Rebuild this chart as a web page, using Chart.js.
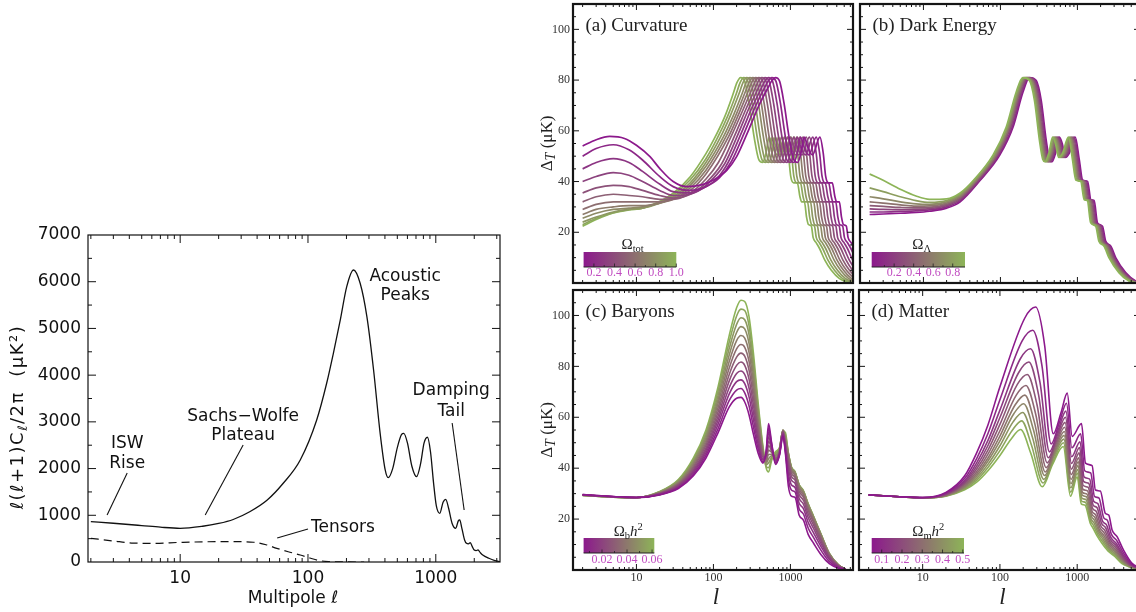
<!DOCTYPE html>
<html><head><meta charset="utf-8">
<script src="https://cdn.jsdelivr.net/npm/chart.js@4.4.0/dist/chart.umd.min.js"></script>
<style>
html,body{margin:0;padding:0;background:#fff;overflow:hidden;width:1136px;height:612px;position:relative;}
canvas{position:absolute;}
</style></head><body>
<canvas id="cl" width="540" height="392" style="left:0;top:220px"></canvas>
<canvas id="ca" width="316" height="287" style="left:540px;top:0"></canvas>
<canvas id="cb" width="290" height="287" style="left:856px;top:0"></canvas>
<canvas id="cc" width="316" height="325" style="left:540px;top:287px"></canvas>
<canvas id="cd" width="290" height="325" style="left:856px;top:287px"></canvas>
<script>
// ---------- Left chart: power spectrum ----------
const ellFull=[2,3,5,7,10,15,20,26,35,48,64,87,117,140,158,179,201,227,256,289,326,367,402,424,460,500,540,562,600,650,707,760,810,861,910,960,1010,1075,1140,1197,1260,1340,1432,1500,1540,1600,1680,1738,1800,1862,1930,2000,2070,2140,2230,2330,2600,2900,3180];
const powerTotal=[863,830,780,745,721,765,825,910,1075,1327,1685,2184,3040,3826,4468,5181,5894,6251,5966,5252,4110,2755,1970,1805,2000,2450,2730,2755,2550,2050,1827,2100,2550,2670,2350,1700,1200,1043,1280,1342,1150,830,721,880,900,720,470,400,390,413,330,257,245,257,200,150,80,30,5];
const ellTensor=[2,3,4.3,6,10,15,26,37.5,47,57,70,87,105,124,145,170,275];
const powerTensor=[507,450,405,400,420,432,435,423,370,293,220,150,80,28,8,2,0];
const leftYTicks=[0,1000,2000,3000,4000,5000,6000,7000];
const leftXTicks=[10,100,1000];
const noteText=['ISW','Rise','Sachs\u2212Wolfe','Plateau','Acoustic','Peaks','Damping','Tail','Tensors'];
const noteEll=[3.85,3.85,31.1,31.1,576,576,1320,1320,188];
const notePower=[2526,2098,3104,2697,6101,5694,3661,3211,728];
const pointerEll=[[3.85,2.68],[31.1,15.7],[1343,1667],[57.4,100]];
const pointerPower=[[1905,1006],[2505,1006],[2976,1113],[514,706]];

// ---------- (a) Curvature ----------
const curvHeadL=[
[2,3,4.5,7,10,15,20,30,45,70,100,150,200,288,397,512,576,640],
[2,3,5,8,12,20,30,50,80,120,172,258,356,459,517,574],
[2,3,5,8,12,20,30,50,80,110,155,233,321,414,466,518],
[2,3,5,8,12,20,30,50,80,140,211,290,374,421,468],
[2,3,5,8,12,20,30,50,80,128,191,264,340,383,425],
[2,3,5,8,12,20,30,50,80,116,174,240,310,348,387],
[2,3,5,8,12,20,30,50,80,159,219,282,318,353],
[2,3,5,8,12,20,30,50,80,146,201,259,292,324],
[2,3,5,8,12,20,30,50,80,134,184,238,267,297],
[2,3,5,8,12,20,30,50,80,122,167,216,243,270],
[2,3,5,8,12,20,30,50,80,111,153,198,222,247],
[2,3,5,8,12,20,30,50,80,101,140,180,202,225]];
const curvHeadT=[
[54,56.5,57.8,57,54.3,49.8,45.2,40,38,38.7,40.6,44.5,49.8,60.5,70.5,77,79.8,81],
[50,53,54.5,52.5,48.5,42,38,36.5,38,41.5,48,60,70,76.8,79.7,81],
[45,47.5,49,47.5,44,39,36,35.5,38,41,47.5,59.5,69.5,76.5,79.6,81],
[40,42,43.5,42.5,40,36.5,34.5,35,38.5,47,59,69,76.2,79.5,81],
[35.5,37.5,38.5,38,36.5,34.5,33.5,35,39.5,47,58.5,68.5,76,79.5,81],
[32,34,35,34.5,34,33,33,35.5,41,47.5,58.5,68,75.8,79.4,81],
[29,31,32,32,32,32,33,36.5,43,58,67.5,75.5,79.3,81],
[27,29,30,30.5,30.5,31.5,33,37.5,44.5,57.8,67,75.3,79.2,81],
[25.5,27.5,29,29.5,30,31.5,33.5,38.5,46,57.5,66.5,75,79.2,81],
[24,26,28,29,29.5,31.5,34,39.5,47.5,57.2,66.2,74.8,79.1,81],
[23,25.5,27.7,29,29.5,31.8,34.7,40.7,49,56.8,65.8,74.6,79,81],
[22.4,25,27.6,28.8,29.5,32.1,35.4,41.9,51,56.5,65.5,74.5,79,81]];
const curvTailL=[
[725,825,967,1109,1237,1365,1507,1706,1934,2417,2673,2872,3128,3498,3783,3982,4323,4607,4892,5318,5603,6115,6826],
[650,740,867,995,1110,1224,1352,1531,1735,2168,2398,2577,2806,3138,3393,3571,3878,4133,4388,4770,5025,5485,6122,7143],
[587,668,783,898,1001,1105,1220,1381,1565,1957,2164,2325,2532,2831,3062,3223,3499,3729,3959,4305,4535,4949,5525,6446,7827],
[530,603,707,811,905,998,1102,1248,1414,1768,1955,2101,2288,2558,2766,2912,3162,3370,3578,3890,4098,4472,4992,5824,7072],
[482,548,642,737,822,907,1001,1133,1285,1606,1776,1908,2078,2323,2512,2645,2871,3060,3249,3532,3721,4061,4534,5289,6423,8123],
[439,499,585,671,748,826,912,1032,1170,1462,1617,1737,1892,2116,2288,2408,2614,2786,2958,3216,3388,3698,4128,4816,5848,7396],
[400,455,533,612,683,753,832,941,1067,1334,1475,1585,1726,1930,2087,2197,2385,2542,2699,2934,3091,3373,3766,4393,5335,6747],
[367,418,490,562,626,691,763,864,979,1224,1354,1454,1584,1771,1915,2016,2189,2333,2477,2693,2837,3096,3456,4032,4896,6192,7920],
[337,383,449,515,574,634,700,792,898,1122,1241,1333,1452,1624,1756,1848,2006,2138,2270,2468,2600,2838,3168,3696,4488,5676,7260],
[306,348,408,468,522,576,636,720,816,1020,1128,1212,1320,1476,1596,1680,1824,1944,2064,2244,2364,2580,2880,3360,4080,5160,6600],
[280,318,373,428,478,527,582,659,747,933,1032,1109,1208,1351,1460,1537,1669,1779,1889,2053,2163,2361,2635,3074,3733,4721,6039],
[255,290,340,390,435,480,530,600,680,850,940,1010,1100,1230,1330,1400,1520,1620,1720,1870,1970,2150,2400,2800,3400,4300,5500]];
const curvTailT=[79.5,71,57,48.5,47.5,51,57.5,53,50.5,57.5,51,42,39.5,39.5,34,32,32,26,23,22.5,18,16,13.5,9,5,1.8,0.3];

// ---------- (b) Dark energy ----------
const darkLowL=[2,3,5,8,12,20,30];
const darkLowT=[
[27,27.2,27.5,27.8,28.3,29.5,32],
[28,28,28.2,28.4,28.8,30,32.5],
[29.2,29,28.9,29,29.3,30.5,33],
[30.5,30.2,29.8,29.6,29.8,31,33.5],
[32,31.5,30.8,30.3,30.4,31.5,34],
[34,33.2,32,31.2,31,32,34.5],
[37.5,36,34,32.5,31.8,32.5,35],
[43,40.5,37,34.3,33,33.2,35.5]];
const darkTailL=[
[55,98,146,196,239,292,339,393,434,466,523,584,635,698,779,938,1058,1167,1355,1499,1648,1823,2116,2328,2717,3141,4232,5713,7350,9800],
[54,95,142,190,232,283,330,382,421,452,508,568,616,678,757,912,1028,1134,1316,1457,1601,1771,2055,2261,2639,3051,4111,5550,7140,9520],
[52,92,137,185,225,275,320,371,409,439,493,551,598,658,735,885,998,1101,1277,1414,1553,1719,1995,2195,2562,2961,3991,5387,6930,9240],
[50,90,133,179,218,267,310,360,396,426,478,534,580,638,712,858,968,1067,1239,1371,1506,1667,1934,2128,2484,2872,3870,5224,6720,8960],
[49,87,130,174,213,259,302,350,386,414,465,520,565,621,693,835,942,1039,1206,1334,1466,1622,1882,2071,2418,2795,3766,5084,6540,8720],
[48,85,126,170,207,252,294,340,375,403,453,506,549,604,674,812,916,1010,1172,1297,1426,1577,1831,2014,2351,2718,3662,4944,6360,8480],
[46,82,123,165,201,245,285,331,365,391,440,491,534,587,655,789,890,982,1139,1261,1385,1533,1779,1957,2285,2641,3559,4804,6180,8240],
[45,80,119,160,195,238,277,321,354,380,427,477,518,570,636,766,864,953,1106,1224,1345,1488,1727,1900,2218,2564,3455,4664,6000,8000]];
const darkTailT=[40.6,50.4,61.5,75.2,81,79.8,71.9,56.3,48.8,47.8,51.5,57.5,55,49.5,51,57.5,48.5,40.6,40,32.8,32.5,23.7,22.4,16.5,14.5,10,4.1,0.8,0,0];

// ---------- (c) Baryons ----------
const baryonL=[2,5,10,20,35,55,80,115,160,200,228,255,290,330,380,440,485,520,570,640,720,800,860,940,1030,1150,1300,1480,1700,2000,2500,3200,4200,5200];
const baryonT=[
[29.6,28.9,28.5,29.5,32,37,44,54,64,67.5,67.8,66,61,53.5,46,42,47,57.5,50,41.5,45,52.5,46,33,29,28.5,21.5,19.5,14,10.5,6,2.5,0.7,0.1],
[29.6,28.9,28.5,29.6,32.3,37.6,45,55.6,66.5,70.7,71.3,69.6,64.5,56.4,47.8,42.6,46.4,55.8,49.4,42,45.3,53,46.7,35.8,31.4,30.6,24,21.9,16.5,12.7,7.7,3.3,1,0.15],
[29.5,28.8,28.5,29.7,32.6,38.3,46,57.3,69.1,74,74.7,73.2,68,59.3,49.6,43.2,45.7,54.1,48.7,42.4,45.5,53.5,47.5,38.1,33.5,32.4,26.2,24,18.7,14.6,9.2,4.1,1.2,0.2],
[29.5,28.8,28.5,29.9,33,38.9,47,58.9,71.6,77.2,78.2,76.8,71.5,62.2,51.5,43.8,45.1,52.3,48.1,42.9,45.8,54,48.2,40.1,35.3,34,28.1,25.8,20.6,16.3,10.4,4.7,1.4,0.2],
[29.5,28.8,28.5,30,33.3,39.5,48,60.5,74.2,80.4,81.7,80.4,75,65.1,53.3,44.4,44.5,50.6,47.5,43.3,46.1,54.3,48.9,41.8,36.8,35.3,29.6,27.3,22.1,17.6,11.4,5.2,1.6,0.25],
[29.5,28.7,28.5,30.1,33.6,40.2,49,62.2,76.7,83.6,85.2,84,78.5,68,55.1,45,43.8,48.9,46.8,43.8,46.4,54.6,49.6,43.1,38,36.3,30.9,28.5,23.4,18.7,12.2,5.6,1.7,0.25],
[29.4,28.7,28.5,30.2,33.9,40.8,50,63.8,79.3,86.9,88.6,87.5,82,71,56.9,45.5,43.2,47.1,46.2,44.2,46.6,54.8,50.4,44.2,38.9,37.1,31.8,29.4,24.3,19.5,12.9,5.9,1.8,0.3],
[29.4,28.7,28.4,30.3,34.2,41.5,51,65.5,81.8,90.1,92.1,91.1,85.5,73.9,58.7,46.1,42.5,45.4,45.5,44.7,46.9,55,51.1,45,39.6,37.7,32.5,30.1,25,20.2,13.4,6.2,1.9,0.3],
[29.4,28.7,28.4,30.4,34.5,42.1,52,67.1,84.4,93.3,95.6,94.7,89,76.8,60.5,46.7,41.9,43.7,44.9,45.1,47.2,55,51.8,45.5,40.1,38.1,33,30.6,25.5,20.6,13.7,6.3,1.95,0.3],
[29.4,28.6,28.4,30.6,34.9,42.7,53,68.7,86.9,96.5,99.1,98.3,92.5,79.7,62.4,47.3,41.3,42,44.3,45.6,47.5,55,52.5,45.8,40.3,38.4,33.3,30.8,25.8,20.9,13.9,6.4,2,0.3],
[29.3,28.6,28.4,30.7,35.2,43.4,54,70.4,89.5,99.8,102.5,101.9,96,82.6,64.2,47.9,40.6,40.2,43.6,46,47.7,54.8,53.3,46,40.5,38.5,33.5,31,26,21,14,6.5,2,0.3],
[29.3,28.6,28.4,30.8,35.5,44,55,72,92,103,106,105.5,99.5,85.5,66,48.5,40,38.5,43,46.5,48,54.5,54,46,40.5,38.5,33.5,31,26,21,14,6.5,2,0.3]];

// ---------- (d) Matter ----------
const matterL=[
[2,5,10,20,35,50,70,100,210,290,380,490,620,743,861,1137,1280,1560,1722,1995,2317,2560,2830,3300,3980,5130,6600],
[2,5,10,20,35,50,70,100,194,266,351,460,590,727,853,1110,1250,1497,1673,1913,2209,2462,2765,3262,3945,5030,6600],
[2,5,10,20,35,50,70,100,183,249,330,438,568,714,847,1089,1226,1450,1635,1851,2126,2388,2714,3229,3920,4955,6600],
[2,5,10,20,35,50,70,100,175,237,315,423,552,705,842,1074,1210,1416,1608,1806,2068,2336,2677,3206,3899,4900,6600],
[2,5,10,20,35,50,70,100,168,226,302,409,538,697,838,1060,1195,1386,1584,1767,2016,2288,2645,3184,3882,4851,6600],
[2,5,10,20,35,50,70,100,162,217,291,397,526,689,835,1047,1181,1360,1562,1732,1970,2247,2615,3165,3866,4806,6600],
[2,5,10,20,35,50,70,100,157,210,281,387,515,683,832,1037,1170,1337,1543,1702,1931,2211,2589,3148,3852,4768,6600],
[2,5,10,20,35,50,70,100,152,203,273,378,506,677,829,1027,1160,1317,1527,1676,1897,2180,2567,3134,3840,4734,6600],
[2,5,10,20,35,50,70,100,148,197,265,370,497,672,826,1018,1150,1297,1511,1650,1864,2149,2545,3120,3827,4701,6600],
[2,5,10,20,35,50,70,100,144,191,257,361,489,666,823,1009,1140,1278,1495,1624,1831,2120,2523,3105,3815,4668,6600],
[2,5,10,20,35,50,70,100,140,185,250,353,480,660,820,1000,1130,1260,1480,1600,1800,2090,2500,3090,3800,4630,6600]];
const matterT=[
[29.5,28.8,28.5,30.5,37,46,57,72,99,103.3,88,53.5,62,69.5,52.5,57.5,42,41,31.4,31,22.2,21.6,15.7,13,7.8,2.6,0.8],
[29.5,28.8,28.46,30.2,36,43.8,53.6,66.9,90,94.2,80,49.5,58.1,65.5,48,53.5,39,38.1,28.9,28.3,20.5,19.5,14.1,11.5,6.8,2.35,0.7],
[29.5,28.8,28.43,30,35.1,42.1,50.9,62.8,82.9,86.9,73.7,46.4,55,62.4,44.5,50.4,36.6,35.7,27,26.1,19.2,17.8,12.9,10.3,6,2.2,0.63],
[29.5,28.8,28.41,29.8,34.5,40.8,48.9,59.9,77.6,81.7,69.1,44.1,52.8,60,41.9,48.1,34.8,34,25.5,24.5,18.3,16.6,12,9.5,5.4,2,0.58],
[29.5,28.8,28.39,29.7,34,39.7,47.1,57.2,72.9,76.8,64.9,42.1,50.7,58,39.6,46,33.2,32.5,24.2,23,17.4,15.5,11.2,8.7,4.9,1.9,0.53],
[29.5,28.8,28.37,29.5,33.5,38.6,45.5,54.7,68.6,72.5,61.1,40.2,48.9,56.1,37.5,44.1,31.8,31.1,23,21.7,16.6,14.5,10.5,8,4.4,1.8,0.48],
[29.5,28.8,28.36,29.4,33,37.7,44,52.6,64.8,68.7,57.8,38.5,47.2,54.4,35.6,42.5,30.5,29.8,22,20.6,15.9,13.6,9.8,7.4,4,1.7,0.44],
[29.5,28.8,28.34,29.3,32.7,36.9,42.8,50.7,61.5,65.3,54.8,37.1,45.8,52.9,33.9,41,29.4,28.8,21.1,19.5,15.3,12.8,9.2,6.8,3.6,1.6,0.4],
[29.5,28.8,28.33,29.2,32.3,36.1,41.5,48.8,58.2,61.9,51.9,35.6,44.4,51.4,32.3,39.5,28.2,27.7,20.1,18.5,14.7,12.1,8.6,6.3,3.2,1.5,0.37],
[29.5,28.8,28.31,29.1,31.9,35.3,40.3,46.9,54.8,58.6,48.9,34.2,42.9,50,30.6,38.1,27.1,26.6,19.2,17.5,14.1,11.3,8.1,5.7,2.9,1.4,0.33],
[29.5,28.8,28.3,29,31.5,34.5,39,45,51.5,55.2,46,32.7,41.5,48.5,29,36.6,26,25.5,18.3,16.5,13.5,10.5,7.5,5.2,2.5,1.3,0.3]];

// ---------- shared tick / colour-bar labels ----------
const rightXTicks=[10,100,1000];
const rightYTicks=[20,40,60,80,100];
const curvBarTicks=[0.2,0.4,0.6,0.8,1.0], curvBarLabels=['0.2','0.4','0.6','0.8','1.0'];
const darkBarTicks=[0.2,0.4,0.6,0.8], darkBarLabels=['0.2','0.4','0.6','0.8'];
const baryonBarTicks=[0.02,0.04,0.06], baryonBarLabels=['0.02','0.04','0.06'];
const matterBarTicks=[0.1,0.2,0.3,0.4,0.5], matterBarLabels=['0.1','0.2','0.3','0.4','0.5'];

// ================= drawing code =================
const SANS='"DejaVu Sans", sans-serif';
const SERIF='"Liberation Serif", "DejaVu Serif", serif';
const PURPLE=[140,25,140], GREEN=[141,180,88];
function mix(t){return 'rgb('+PURPLE.map((v,i)=>Math.round(v+(GREEN[i]-v)*t)).join(',')+')';}
function pts(L,T){return L.map((l,i)=>({x:l,y:T[i]}));}
function seg(ctx,x1,y1,x2,y2){ctx.beginPath();ctx.moveTo(x1,y1);ctx.lineTo(x2,y2);ctx.stroke();}
function logTicks(min,max){const o=[];for(let e=-1;e<=4;e++)for(let m=1;m<=9;m++){const v=m*Math.pow(10,e);if(v>min*1.001&&v<max*0.999)o.push({v,major:m===1});}return o;}
function runs(ctx,parts,x,y,align){
  let w=0;parts.forEach(p=>{ctx.font=p.f;p.w=ctx.measureText(p.t).width;w+=p.w;});
  let cx=align==='center'?x-w/2:x;
  ctx.textAlign='left';ctx.textBaseline='alphabetic';
  parts.forEach(p=>{ctx.font=p.f;ctx.fillText(p.t,cx,y+(p.dy||0));cx+=p.w;});
}
function frameTicks(chart,st){
  const {ctx,chartArea:a,scales:{x,y}}=chart;
  ctx.save();ctx.strokeStyle=st.color;ctx.lineWidth=st.tickW;
  logTicks(x.min,x.max).forEach(t=>{const p=x.getPixelForValue(t.v);const L=t.major?st.maj:st.min;seg(ctx,p,a.bottom,p,a.bottom-L);seg(ctx,p,a.top,p,a.top+L);});
  const n=Math.round((y.max-y.min)/st.yMinor);
  for(let i=1;i<n;i++){const v=y.min+i*st.yMinor;const p=y.getPixelForValue(v);const L=(i%st.perMajor===0)?st.maj:st.min;seg(ctx,a.left,p,a.left+L,p);seg(ctx,a.right,p,a.right-L,p);}
  ctx.lineWidth=st.frameW;ctx.strokeRect(a.left,a.top,a.right-a.left,a.bottom-a.top);
  ctx.restore();
}
function colorbar(ctx,a,cb){
  const x0=a.left+cb.dx0,x1=a.left+cb.dx1,y0=a.bottom-cb.dy0,y1=a.bottom-cb.dy1;
  const g=ctx.createLinearGradient(x0,0,x1,0);g.addColorStop(0,mix(0));g.addColorStop(0.5,mix(0.5));g.addColorStop(1,mix(1));
  ctx.fillStyle=g;ctx.fillRect(x0,y0,x1-x0,y1-y0);
  ctx.strokeStyle='#222';ctx.lineWidth=1.2;seg(ctx,x0,y1,x1,y1);
  const px=v=>x0+(v-cb.vmin)/(cb.vmax-cb.vmin)*(x1-x0);
  ctx.lineWidth=0.8;
  cb.ticks.forEach(v=>seg(ctx,px(v),y1,px(v),y1-3.5));
  cb.minor.forEach(v=>seg(ctx,px(v),y1,px(v),y1-2));
  ctx.fillStyle='#c04cc0';ctx.font='12px '+SERIF;ctx.textAlign='center';ctx.textBaseline='alphabetic';
  cb.ticks.forEach((v,i)=>ctx.fillText(cb.labels[i],px(v),a.bottom-7.5));
  ctx.fillStyle='#222';runs(ctx,cb.title,a.left+cb.tx,a.bottom-34.5,'center');
}
function rightDeco(cfg){
  return {id:'deco',afterDraw(chart){
    const {ctx,chartArea:a}=chart;
    frameTicks(chart,{color:'#151515',tickW:1,maj:6,min:3,yMinor:5,perMajor:4,frameW:2.2});
    ctx.save();
    ctx.fillStyle='#222';ctx.font='19px '+SERIF;ctx.textAlign='left';ctx.textBaseline='alphabetic';
    ctx.fillText(cfg.label,a.left+12.5,a.top+26.5);
    colorbar(ctx,a,cfg.bar);
    if(cfg.yTitle){
      ctx.save();ctx.translate(a.left-27,(a.top+a.bottom)/2);ctx.rotate(-Math.PI/2);ctx.fillStyle='#222';
      runs(ctx,[{t:'\u0394',f:'17px '+SERIF},{t:'T',f:'italic 14px '+SERIF,dy:3},{t:' (\u03BCK)',f:'17px '+SERIF}],0,6,'center');
      ctx.restore();
    }
    if(cfg.xTitle){
      ctx.fillStyle='#222';ctx.font='italic 23px '+SERIF;ctx.textAlign='center';ctx.textBaseline='middle';
      ctx.fillText('l',(a.left+a.right)/2+3,a.bottom+28);
    }
    ctx.restore();
  }};
}
function rightChart(id,datasets,o){
  return new Chart(document.getElementById(id),{
    type:'line',data:{datasets},
    options:{responsive:false,animation:false,devicePixelRatio:1,
      layout:{padding:o.pad},
      plugins:{legend:{display:false},tooltip:{enabled:false}},
      elements:{point:{radius:0}},
      scales:{
        x:{type:'logarithmic',min:1.5,max:6500,bounds:'data',display:o.showX,
           grid:{display:false,drawTicks:false},border:{display:false},
           afterBuildTicks:s=>{s.ticks=rightXTicks.map(v=>({value:v}));},
           afterFit:s=>{s.paddingLeft=0;s.paddingRight=0;s.height=o.showX?42:0;},
           ticks:{font:{family:SERIF,size:12},color:'#333',padding:1,maxRotation:0,autoSkip:false,callback:v=>String(v)}},
        y:{type:'linear',min:0,max:110,display:o.showY,
           grid:{display:false,drawTicks:false},border:{display:false},
           afterBuildTicks:s=>{s.ticks=rightYTicks.map(v=>({value:v}));},
           afterFit:s=>{s.paddingTop=0;s.paddingBottom=0;s.width=o.showY?33:0;},
           ticks:{font:{family:SERIF,size:12},color:'#333',padding:3,autoSkip:false,callback:v=>String(v)}}
      }},
    plugins:[rightDeco(o.deco)]
  });
}
function lineDs(L,T,t,w){return {data:pts(L,T),borderColor:mix(t),borderWidth:w||1.5,pointRadius:0,fill:false,cubicInterpolationMode:'monotone',clip:0};}

// ---- left chart ----
const leftDeco={id:'leftdeco',afterDraw(chart){
  const {ctx,chartArea:a,scales:{x,y}}=chart;
  frameTicks(chart,{color:'#111',tickW:1,maj:8,min:4,yMinor:500,perMajor:2,frameW:1.2});
  ctx.save();ctx.fillStyle='#111';ctx.strokeStyle='#111';ctx.lineWidth=1.1;
  ctx.font='17px '+SANS;ctx.textAlign='center';ctx.textBaseline='middle';
  noteText.forEach((t,i)=>ctx.fillText(t,x.getPixelForValue(noteEll[i]),y.getPixelForValue(notePower[i])));
  pointerEll.forEach((e,i)=>seg(ctx,x.getPixelForValue(e[0]),y.getPixelForValue(pointerPower[i][0]),x.getPixelForValue(e[1]),y.getPixelForValue(pointerPower[i][1])));
  ctx.fillText('Multipole \u2113',(a.left+a.right)/2-1,a.bottom+37);
  ctx.save();ctx.translate(a.left-71,a.top+182);ctx.rotate(-Math.PI/2);
  ctx.letterSpacing='1.5px';
  runs(ctx,[{t:'\u2113(\u2113+1)C',f:'18px '+SANS},{t:'\u2113',f:'13px '+SANS,dy:4},{t:'/2\u03C0  (\u03BCK\u00B2)',f:'18px '+SANS}],0,6,'center');
  ctx.restore();
  ctx.restore();
}};
new Chart(document.getElementById('cl'),{
  type:'line',
  data:{datasets:[
    {data:pts(ellFull,powerTotal),borderColor:'#111',borderWidth:1.3,pointRadius:0,fill:false,cubicInterpolationMode:'monotone',clip:0},
    {data:pts(ellTensor,powerTensor),borderColor:'#111',borderWidth:1.2,borderDash:[8,5],pointRadius:0,fill:false,cubicInterpolationMode:'monotone',clip:0}
  ]},
  options:{responsive:false,animation:false,devicePixelRatio:1,
    layout:{padding:{left:0,top:15,right:40,bottom:0}},
    plugins:{legend:{display:false},tooltip:{enabled:false}},
    scales:{
      x:{type:'logarithmic',min:1.9,max:3180,bounds:'data',grid:{display:false,drawTicks:false},border:{display:false},
         afterBuildTicks:s=>{s.ticks=leftXTicks.map(v=>({value:v}));},afterFit:s=>{s.paddingLeft=0;s.paddingRight=0;s.height=50;},
         ticks:{font:{family:SANS,size:17},color:'#111',padding:6,maxRotation:0,autoSkip:false,callback:v=>String(v)}},
      y:{type:'linear',min:0,max:7000,grid:{display:false,drawTicks:false},border:{display:false},
         afterBuildTicks:s=>{s.ticks=leftYTicks.map(v=>({value:v}));},afterFit:s=>{s.paddingTop=0;s.paddingBottom=0;s.width=88;},
         ticks:{font:{family:SANS,size:17},color:'#111',padding:7,autoSkip:false,callback:v=>String(v)}}
    }},
  plugins:[leftDeco]
});

// ---- (a) ----
const dsA=curvHeadL.map((h,k)=>lineDs(h.concat(curvTailL[k]),curvHeadT[k].concat(curvTailT.slice(0,curvTailL[k].length)),k/11,1.7));
rightChart('ca',dsA,{pad:{left:0,top:4,right:3,bottom:4},showX:false,showY:true,
  deco:{label:'(a) Curvature',yTitle:true,xTitle:false,
    bar:{dx0:10.6,dx1:103.3,dy0:31,dy1:16,vmin:0.1,vmax:1.0,ticks:curvBarTicks,labels:curvBarLabels,minor:[0.3,0.5,0.7,0.9],tx:59.6,
      title:[{t:'\u03A9',f:'15px '+SERIF},{t:'tot',f:'10.5px '+SERIF,dy:3}]}}});

// ---- (b) ----
const dsB=[];
for(let k=darkTailL.length-1;k>=0;k--) dsB.push(lineDs(darkLowL.concat(darkTailL[k]),darkLowT[k].concat(darkTailT),k/(darkTailL.length-1),1.7));
rightChart('cb',dsB,{pad:{left:4,top:4,right:6,bottom:4},showX:false,showY:false,
  deco:{label:'(b) Dark Energy',yTitle:false,xTitle:false,
    bar:{dx0:11.7,dx1:105,dy0:31,dy1:16,vmin:-0.03,vmax:0.926,ticks:darkBarTicks,labels:darkBarLabels,minor:[0.1,0.3,0.5,0.7],tx:61.7,
      title:[{t:'\u03A9',f:'15px '+SERIF},{t:'\u039B',f:'10.5px '+SERIF,dy:3}]}}});

// ---- (c) ----
const dsC=baryonT.map((T,k)=>lineDs(baryonL,T,k/11,1.6));
rightChart('cc',dsC,{pad:{left:0,top:3,right:3,bottom:0},showX:true,showY:true,
  deco:{label:'(c) Baryons',yTitle:true,xTitle:true,
    bar:{dx0:10.6,dx1:81.3,dy0:32,dy1:17,vmin:0.0053,vmax:0.0618,ticks:baryonBarTicks,labels:baryonBarLabels,minor:[0.01,0.03,0.05],tx:55.3,
      title:[{t:'\u03A9',f:'15px '+SERIF},{t:'b',f:'10.5px '+SERIF,dy:3},{t:'h',f:'italic 15px '+SERIF},{t:'2',f:'10.5px '+SERIF,dy:-6}]}}});

// ---- (d) ----
const dsD=matterT.map((T,k)=>lineDs(matterL[k],T,k/10,1.6));
rightChart('cd',dsD,{pad:{left:3,top:3,right:6,bottom:0},showX:true,showY:false,
  deco:{label:'(d) Matter',yTitle:false,xTitle:true,
    bar:{dx0:12.7,dx1:105,dy0:32,dy1:17,vmin:0.0506,vmax:0.506,ticks:matterBarTicks,labels:matterBarLabels,minor:[0.15,0.25,0.35,0.45],tx:69.3,
      title:[{t:'\u03A9',f:'15px '+SERIF},{t:'m',f:'10.5px '+SERIF,dy:3},{t:'h',f:'italic 15px '+SERIF},{t:'2',f:'10.5px '+SERIF,dy:-6}]}}});
</script>
</body></html>
